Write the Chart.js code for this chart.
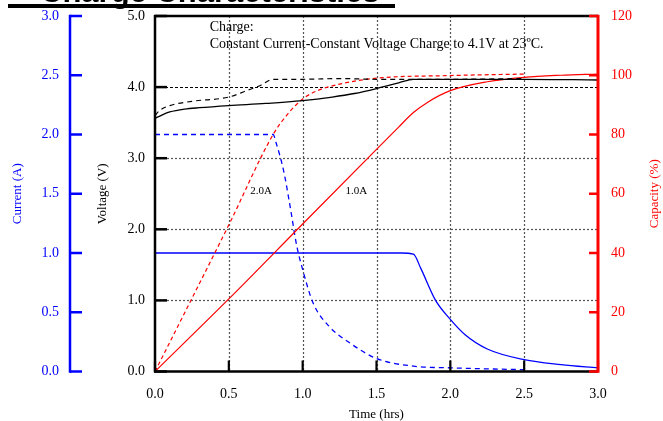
<!DOCTYPE html>
<html><head><meta charset="utf-8">
<script src="https://cdn.jsdelivr.net/npm/chart.js@4.4.0/dist/chart.umd.min.js"></script>
<style>
html,body{margin:0;padding:0;background:#fff;overflow:hidden;}
#wrap{position:relative;width:663px;height:421px;overflow:hidden;background:#fff;}
#c{position:absolute;left:0;top:0;}
#title{position:absolute;left:40px;top:-24px;font:bold 31px "Liberation Sans",Arial,sans-serif;line-height:31px;white-space:nowrap;color:#000;}
#uline{position:absolute;left:8px;top:4px;width:387px;height:4px;background:#000;}
</style></head><body>
<div id="wrap">
<canvas id="c" width="663" height="421"></canvas>
<div id="title">Charge Characteristics</div>
<div id="uline"></div>
</div>
<script>
// ---- data ----
const timeTicks = [0, 0.5, 1.0, 1.5, 2.0, 2.5, 3.0];

const timeVolt1A = [0, 0.05, 0.1, 0.2, 0.3, 0.5, 0.75, 1.0, 1.2, 1.35, 1.5, 1.65, 1.75, 2.0, 2.5, 3.0];
const volt1A     = [3.56, 3.61, 3.65, 3.69, 3.71, 3.74, 3.77, 3.81, 3.86, 3.91, 3.98, 4.06, 4.11, 4.11, 4.11, 4.10];

const timeVolt2A = [0, 0.03, 0.1, 0.25, 0.5, 0.62, 0.71, 0.8, 1.0, 1.25, 1.5, 2.0, 2.5];
const volt2A     = [3.60, 3.67, 3.74, 3.80, 3.86, 3.95, 4.02, 4.11, 4.11, 4.12, 4.11, 4.11, 4.12];

const timeCap1A = [0, 0.5, 1.0, 1.5, 1.65, 1.75, 1.85, 2.0, 2.25, 2.5, 2.75, 3.0];
const cap1A     = [0, 24.5, 49.8, 75, 82.5, 87.4, 91, 94.8, 97.8, 99.3, 100, 100.4];

const timeCap2A = [0, 0.5, 0.8, 0.9, 1.0, 1.1, 1.25, 1.5, 2.0, 2.5];
const cap2A     = [0, 49.5, 80, 87, 92, 94.8, 97, 99, 99.9, 100.4];

const timeCur1A = [0, 1.67, 1.75, 1.8, 1.9, 2.0, 2.1, 2.25, 2.5, 2.75, 3.0];
const cur1A     = [1.0, 1.0, 0.99, 0.87, 0.6, 0.44, 0.31, 0.19, 0.10, 0.058, 0.03];

const timeCur2A = [0, 0.8, 0.82, 0.87, 0.91, 0.96, 1.0, 1.07, 1.18, 1.32, 1.5, 1.75, 2.0, 2.5];
const cur2A     = [2.0, 2.0, 1.93, 1.7, 1.43, 1.06, 0.86, 0.58, 0.38, 0.24, 0.11, 0.045, 0.031, 0.015];

const SERIF = '"Liberation Serif","Times New Roman",serif';
const BLUE = '#0000ff', RED = '#ff0000';

function pts(t, v){ return t.map((x, i) => ({x, y: v[i]})); }

const frame = {
  id: 'frame',
  beforeDatasetsDraw(chart){
    const {ctx, chartArea: a, scales: {x, yV}} = chart;
    ctx.save();
    ctx.lineWidth = 1.2;
    // vertical grid
    ctx.strokeStyle = '#555'; ctx.setLineDash([2, 2]);
    x.ticks.forEach(t => {
      if (t.value <= 0 || t.value >= 3) return;
      const px = Math.round(x.getPixelForValue(t.value)) + 0.5;
      ctx.beginPath(); ctx.moveTo(px, a.top); ctx.lineTo(px, a.bottom); ctx.stroke();
    });
    // horizontal grid
    yV.ticks.forEach(t => {
      if (t.value <= 0 || t.value >= 5) return;
      const py = Math.round(yV.getPixelForValue(t.value)) + 0.5;
      if (t.value === 4) { ctx.strokeStyle = '#000'; ctx.setLineDash([3, 2]); ctx.lineWidth = 1; }
      else { ctx.strokeStyle = '#555'; ctx.setLineDash([2, 2]); ctx.lineWidth = 1.2; }
      ctx.beginPath(); ctx.moveTo(a.left, py); ctx.lineTo(a.right, py); ctx.stroke();
    });
    ctx.restore();
  },
  afterDatasetsDraw(chart){
    const {ctx, chartArea: a, scales: {x, yV, yI, yC}} = chart;
    ctx.save();
    ctx.setLineDash([]);
    const L = (x1, y1, x2, y2, c, w) => { ctx.strokeStyle = c; ctx.lineWidth = w; ctx.beginPath(); ctx.moveTo(x1, y1); ctx.lineTo(x2, y2); ctx.stroke(); };
    // frame
    L(a.left - 1, a.top, a.right, a.top, '#000', 2.5);
    L(a.left - 1, a.bottom, a.right, a.bottom, '#000', 2.5);
    L(a.left, a.top - 1, a.left, a.bottom + 1, '#000', 2.5);
    // x ticks
    x.ticks.forEach(t => { const px = x.getPixelForValue(t.value); L(px, a.bottom, px, a.bottom - 11, '#000', 2.2); });
    // voltage ticks
    yV.ticks.forEach(t => { const py = yV.getPixelForValue(t.value); L(a.left, py, a.left + 12, py, '#000', 2.5); });
    // capacity axis
    yC.ticks.forEach(t => { const py = yC.getPixelForValue(t.value); L(a.right, py, a.right - 9, py, RED, 2.5); });
    L(a.right, a.top - 1.2, a.right, a.bottom + 1.2, RED, 3);
    // current axis
    const cx = yI.right;
    L(cx, a.top - 1.2, cx, a.bottom + 1.2, BLUE, 2.5);
    yI.ticks.forEach(t => { const py = yI.getPixelForValue(t.value); L(cx, py, cx + 12, py, BLUE, 2.5); });
    // capacity title (reads bottom to top)
    ctx.fillStyle = RED; ctx.font = '13px ' + SERIF; ctx.textAlign = 'center'; ctx.textBaseline = 'middle';
    ctx.translate(655, (a.top + a.bottom) / 2); ctx.rotate(-Math.PI / 2);
    ctx.fillText('Capacity (%)', 0, 0);
    ctx.restore();
    // annotations
    ctx.save();
    ctx.fillStyle = '#000'; ctx.textAlign = 'left'; ctx.textBaseline = 'alphabetic';
    ctx.font = '14px ' + SERIF;
    ctx.fillText('Charge:', x.getPixelForValue(0.37), yV.getPixelForValue(4.79));
    ctx.fillText('Constant Current-Constant Voltage Charge to 4.1V at 23ºC.', x.getPixelForValue(0.37), yV.getPixelForValue(4.556));
    ctx.font = '11px ' + SERIF;
    ctx.fillText('2.0A', x.getPixelForValue(0.645), yV.getPixelForValue(2.49));
    ctx.fillText('1.0A', x.getPixelForValue(1.29), yV.getPixelForValue(2.49));
    ctx.restore();
  }
};

const tickFont = {family: SERIF, size: 14};
const titleFont = {family: SERIF, size: 13};
const noPadV = s => { s.paddingTop = 0; s.paddingBottom = 0; };

new Chart(document.getElementById('c'), {
  type: 'line',
  data: {
    datasets: [
      {label: 'Voltage 1.0A', data: pts(timeVolt1A, volt1A), yAxisID: 'yV', borderColor: '#000', borderWidth: 1.3},
      {label: 'Voltage 2.0A', data: pts(timeVolt2A, volt2A), yAxisID: 'yV', borderColor: '#000', borderWidth: 1.2, borderDash: [5, 4]},
      {label: 'Capacity 1.0A', data: pts(timeCap1A, cap1A), yAxisID: 'yC', borderColor: RED, borderWidth: 1.2},
      {label: 'Capacity 2.0A', data: pts(timeCap2A, cap2A), yAxisID: 'yC', borderColor: RED, borderWidth: 1.2, borderDash: [4, 3]},
      {label: 'Current 1.0A', data: pts(timeCur1A, cur1A), yAxisID: 'yI', borderColor: BLUE, borderWidth: 1.3},
      {label: 'Current 2.0A', data: pts(timeCur2A, cur2A), yAxisID: 'yI', borderColor: BLUE, borderWidth: 1.3, borderDash: [5, 4]}
    ]
  },
  options: {
    responsive: false,
    animation: false,
    devicePixelRatio: 1,
    layout: {padding: {top: 16, left: 0, right: 0, bottom: 0}},
    elements: {point: {radius: 0}, line: {cubicInterpolationMode: 'monotone', fill: false}},
    plugins: {legend: {display: false}, tooltip: {enabled: false}},
    scales: {
      x: {
        type: 'linear', position: 'bottom', min: 0, max: 3,
        afterBuildTicks: s => { s.ticks = timeTicks.map(v => ({value: v})); },
        ticks: {callback: v => v.toFixed(1), font: tickFont, color: '#000', padding: 14, autoSkip: false, maxRotation: 0},
        grid: {display: false, drawTicks: false}, border: {display: false},
        title: {display: true, text: 'Time (hrs)', font: titleFont, color: '#000', padding: {top: 0, bottom: -1.5}},
        afterFit: s => { s.height = 49.5; s.paddingLeft = 0; s.paddingRight = 0; }
      },
      yI: {
        position: 'left', weight: 10, min: 0, max: 3,
        ticks: {stepSize: 0.5, callback: v => v.toFixed(1), font: tickFont, color: BLUE, padding: 11, autoSkip: false},
        grid: {display: false, drawTicks: false}, border: {display: false},
        title: {display: true, text: 'Current (A)', font: titleFont, color: BLUE, padding: {top: 10, bottom: 0}},
        afterFit: s => { s.width = 70; noPadV(s); }
      },
      yV: {
        position: 'left', weight: 0, min: 0, max: 5,
        ticks: {stepSize: 1, callback: v => v.toFixed(1), font: tickFont, color: '#000', padding: 10, autoSkip: false},
        grid: {display: false, drawTicks: false}, border: {display: false},
        title: {display: true, text: 'Voltage (V)', font: titleFont, color: '#000', padding: {top: 25, bottom: 0}},
        afterFit: s => { s.width = 85; noPadV(s); }
      },
      yC: {
        position: 'right', min: 0, max: 120,
        ticks: {stepSize: 20, font: tickFont, color: RED, padding: 13, autoSkip: false},
        grid: {display: false, drawTicks: false}, border: {display: false},
        title: {display: false},
        afterFit: s => { s.width = 65; noPadV(s); }
      }
    }
  },
  plugins: [frame]
});
</script>
</body></html>
